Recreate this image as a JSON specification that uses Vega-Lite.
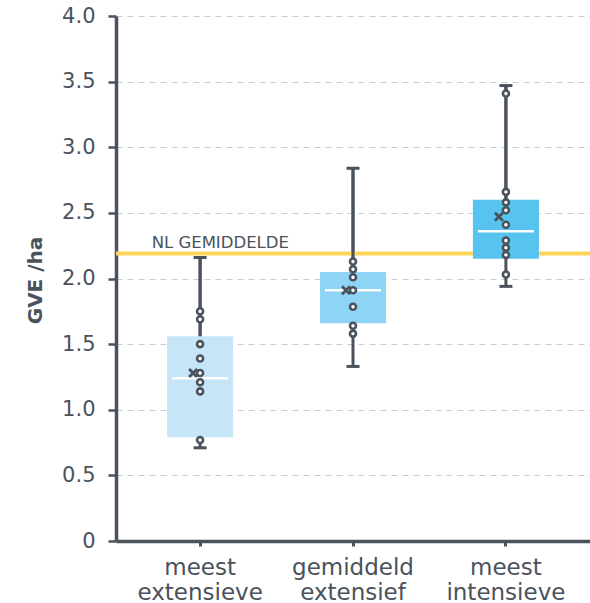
{
  "$schema": "https://vega.github.io/schema/vega-lite/v6.json",
  "width": 474,
  "height": 525,
  "autosize": {"type": "none"},
  "padding": {"left": 116, "top": 16, "right": 0, "bottom": 62},
  "config": {
    "font": "DejaVu Sans",
    "view": {"stroke": null},
    "axis": {"labelColor": "#4a525c", "titleColor": "#4a525c"}
  },
  "datasets": {
    "boxes": [
      {"group": "meest extensieve", "lo": 0.71, "q1": 0.79, "median": 1.24, "q3": 1.56, "hi": 2.16, "mean": 1.28},
      {"group": "gemiddeld extensief", "lo": 1.33, "q1": 1.66, "median": 1.91, "q3": 2.05, "hi": 2.84, "mean": 1.91},
      {"group": "meest intensieve", "lo": 1.94, "q1": 2.15, "median": 2.36, "q3": 2.6, "hi": 3.47, "mean": 2.47}
    ],
    "points": [
      {"group": "meest extensieve", "value": 1.75},
      {"group": "meest extensieve", "value": 1.69},
      {"group": "meest extensieve", "value": 1.5},
      {"group": "meest extensieve", "value": 1.39},
      {"group": "meest extensieve", "value": 1.28},
      {"group": "meest extensieve", "value": 1.21},
      {"group": "meest extensieve", "value": 1.14},
      {"group": "meest extensieve", "value": 0.77},
      {"group": "gemiddeld extensief", "value": 2.13},
      {"group": "gemiddeld extensief", "value": 2.07},
      {"group": "gemiddeld extensief", "value": 2.01},
      {"group": "gemiddeld extensief", "value": 1.91},
      {"group": "gemiddeld extensief", "value": 1.785},
      {"group": "gemiddeld extensief", "value": 1.64},
      {"group": "gemiddeld extensief", "value": 1.58},
      {"group": "meest intensieve", "value": 3.41},
      {"group": "meest intensieve", "value": 2.66},
      {"group": "meest intensieve", "value": 2.58},
      {"group": "meest intensieve", "value": 2.52},
      {"group": "meest intensieve", "value": 2.41},
      {"group": "meest intensieve", "value": 2.29},
      {"group": "meest intensieve", "value": 2.235},
      {"group": "meest intensieve", "value": 2.18},
      {"group": "meest intensieve", "value": 2.03}
    ],
    "ref": [{"value": 2.19, "label": "NL GEMIDDELDE"}]
  },
  "layer": [
    {
      "data": {"name": "boxes"},
      "mark": {"type": "rule", "color": "#4a525c", "strokeWidth": 3},
      "encoding": {
        "x": {
          "field": "group", "type": "nominal",
          "sort": ["meest extensieve", "gemiddeld extensief", "meest intensieve"],
          "scale": {"paddingOuter": 0.05, "paddingInner": 0},
          "axis": {
            "title": null, "labelAngle": 0,
            "labelExpr": "split(datum.label, ' ')",
            "labelFontSize": 23, "labelLineHeight": 25, "labelPadding": 10,
            "domainColor": "#4a525c", "domainWidth": 3.5,
            "tickColor": "#4a525c", "tickWidth": 3, "tickSize": 5,
            "grid": false
          }
        },
        "y": {
          "field": "lo", "type": "quantitative",
          "scale": {"domain": [0, 4], "nice": false},
          "axis": {
            "title": "GVE /ha", "titleFontSize": 20, "titleFontWeight": "bold",
            "titleX": -81, "titleY": 264, "titleAlign": "center", "titleBaseline": "middle", "titleAngle": -90,
            "values": [0, 0.5, 1, 1.5, 2, 2.5, 3, 3.5, 4],
            "labelExpr": "datum.value == 0 ? '0' : format(datum.value, '.1f')",
            "labelFontSize": 21, "labelPadding": 13,
            "domainColor": "#4a525c", "domainWidth": 3.5,
            "tickColor": "#4a525c", "tickWidth": 2.5, "tickSize": 8,
            "grid": true, "gridColor": "#c9ccd0", "gridDash": [6, 5], "gridWidth": 1
          }
        },
        "y2": {"field": "hi"}
      }
    },
    {
      "data": {"name": "ref"},
      "mark": {"type": "rule", "color": "#fdd55a", "strokeWidth": 4},
      "encoding": {"y": {"field": "value", "type": "quantitative"}}
    },
    {
      "data": {"name": "boxes"},
      "mark": {"type": "rule", "color": "#4a525c", "strokeWidth": 3},
      "encoding": {
        "x": {"field": "group", "type": "nominal", "sort": ["meest extensieve", "gemiddeld extensief", "meest intensieve"]},
        "y": {"field": "hi", "type": "quantitative"},
        "y2": {"field": "q3"}
      }
    },
    {
      "data": {"name": "ref"},
      "mark": {"type": "text", "align": "left", "baseline": "alphabetic", "dx": 28, "dy": -6, "fontSize": 16.5, "color": "#4a525c"},
      "encoding": {
        "x": {"datum": "meest extensieve", "type": "nominal", "bandPosition": 0},
        "y": {"field": "value", "type": "quantitative"},
        "text": {"field": "label"}
      }
    },
    {
      "data": {"name": "boxes"},
      "mark": {"type": "bar", "width": 66},
      "encoding": {
        "x": {"field": "group", "type": "nominal", "sort": ["meest extensieve", "gemiddeld extensief", "meest intensieve"]},
        "y": {"field": "q1", "type": "quantitative"},
        "y2": {"field": "q3"},
        "color": {
          "field": "group", "type": "nominal",
          "scale": {"domain": ["meest extensieve", "gemiddeld extensief", "meest intensieve"], "range": ["#c6e6f8", "#8ed4f5", "#57c4ef"]},
          "legend": null
        }
      }
    },
    {
      "data": {"name": "boxes"},
      "mark": {"type": "tick", "color": "white", "thickness": 2.5, "size": 56, "opacity": 1},
      "encoding": {
        "x": {"field": "group", "type": "nominal", "sort": ["meest extensieve", "gemiddeld extensief", "meest intensieve"]},
        "y": {"field": "median", "type": "quantitative"}
      }
    },
    {
      "data": {"name": "boxes"},
      "mark": {"type": "tick", "color": "#4a525c", "thickness": 3, "size": 13, "opacity": 1},
      "encoding": {
        "x": {"field": "group", "type": "nominal", "sort": ["meest extensieve", "gemiddeld extensief", "meest intensieve"]},
        "y": {"field": "hi", "type": "quantitative"}
      }
    },
    {
      "data": {"name": "boxes"},
      "mark": {"type": "tick", "color": "#4a525c", "thickness": 3, "size": 13, "opacity": 1},
      "encoding": {
        "x": {"field": "group", "type": "nominal", "sort": ["meest extensieve", "gemiddeld extensief", "meest intensieve"]},
        "y": {"field": "lo", "type": "quantitative"}
      }
    },
    {
      "data": {"name": "points"},
      "mark": {"type": "point", "shape": "circle", "filled": false, "fill": "white", "fillOpacity": 1, "stroke": "#4a525c", "strokeWidth": 2.6, "size": 36, "opacity": 1},
      "encoding": {
        "x": {"field": "group", "type": "nominal", "sort": ["meest extensieve", "gemiddeld extensief", "meest intensieve"]},
        "y": {"field": "value", "type": "quantitative"}
      }
    },
    {
      "data": {"name": "boxes"},
      "mark": {"type": "point", "shape": "M-1,-1L1,1M1,-1L-1,1", "filled": false, "stroke": "#4a525c", "strokeWidth": 2.8, "size": 64, "opacity": 1, "xOffset": -7},
      "encoding": {
        "x": {"field": "group", "type": "nominal", "sort": ["meest extensieve", "gemiddeld extensief", "meest intensieve"]},
        "y": {"field": "mean", "type": "quantitative"}
      }
    }
  ]
}
